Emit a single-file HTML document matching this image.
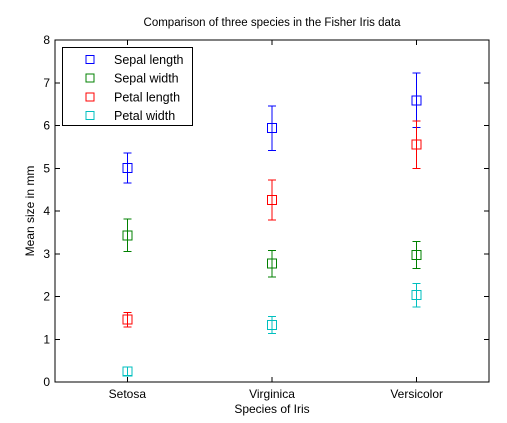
<!DOCTYPE html>
<html><head><meta charset="utf-8"><style>
body{margin:0;background:#fff;}
svg{display:block;font-family:"Liberation Sans",Arial,sans-serif;}
line,rect{shape-rendering:crispEdges;}
</style></head><body>
<svg id="chart" width="507" height="423">
<rect width="507" height="423" fill="#fff"/>
<g id="plot"></g>
</svg>
<script>
const categories = ["Setosa","Virginica","Versicolor"];
const seriesNames = ["Sepal length","Sepal width","Petal length","Petal width"];
const sepalLength = [5.01,5.94,6.59];
const sepalLengthErr = [0.35,0.52,0.64];
const sepalWidth = [3.43,2.77,2.97];
const sepalWidthErr = [0.38,0.31,0.32];
const petalLength = [1.46,4.26,5.55];
const petalLengthErr = [0.17,0.47,0.55];
const petalWidth = [0.25,1.33,2.03];
const petalWidthErr = [0.1,0.2,0.27];
const yTicks = [0,1,2,3,4,5,6,7,8];

const L=55,R=489,T=40,B=382;
const NS="http://www.w3.org/2000/svg";
const g=document.getElementById('plot');
function xs(i){return L+(i+0.5)*(R-L)/3;}
function ys(v){return B-(v/8)*(B-T);}
function mk(tag,attrs,parent){const e=document.createElementNS(NS,tag);for(const k in attrs)e.setAttribute(k,attrs[k]);(parent||g).appendChild(e);return e;}

const axes=mk('rect',{x:L,y:T,width:R-L,height:B-T,fill:'#fff',stroke:'#000','stroke-width':1});



yTicks.forEach(t=>{
  const y=ys(t);
  mk('line',{x1:L,x2:L+5,y1:y,y2:y,stroke:'#000'});
  mk('line',{x1:R,x2:R-5,y1:y,y2:y,stroke:'#000'});
  const tx=mk('text',{x:L-5,y:y+4,'text-anchor':'end','font-size':12});
  tx.textContent=t;
  
  
});
categories.forEach((c,i)=>{
  const x=xs(i);
  mk('line',{x1:x,x2:x,y1:B,y2:B-5,stroke:'#000'});
  mk('line',{x1:x,x2:x,y1:T,y2:T+5,stroke:'#000'});
  const tx=mk('text',{x:x,y:B+16,'text-anchor':'middle','font-size':12});
  tx.textContent=c;
  
  
});

const series=[[sepalLength,sepalLengthErr,'#0000ff'],[sepalWidth,sepalWidthErr,'#008000'],[petalLength,petalLengthErr,'#ff0000'],[petalWidth,petalWidthErr,'#00bfbf']];
series.forEach((s,si)=>{
  const grp=mk('g',{});
  
  
  s[0].forEach((v,i)=>{
    const x=xs(i),y=ys(v),y1=ys(v+s[1][i]),y2=ys(v-s[1][i]);
    mk('line',{x1:x,x2:x,y1:y1,y2:y2,stroke:s[2]},grp);
    mk('line',{x1:x-4,x2:x+4,y1:y1,y2:y1,stroke:s[2]},grp);
    mk('line',{x1:x-4,x2:x+4,y1:y2,y2:y2,stroke:s[2]},grp);
    const m=mk('rect',{x:x-4.5,y:y-4.5,width:9,height:9,fill:'none',stroke:s[2]},grp);
    
    
  });
});

const leg=mk('g',{});


mk('rect',{x:62.5,y:47.5,width:130,height:78,fill:'#fff',stroke:'#000'},leg);
seriesNames.forEach((n,i)=>{
  const y=59.5+i*18.7;
  mk('rect',{x:86,y:y-4,width:8,height:8,fill:'none',stroke:series[i][2]},leg);
  const tx=mk('text',{x:114,y:y+4.5,'font-size':12.5},leg);
  tx.textContent=n;
  
  
});

const title=mk('text',{x:(L+R)/2,y:26,'text-anchor':'middle','font-size':11.5});
title.textContent='Comparison of three species in the Fisher Iris data';


const xl=mk('text',{x:(L+R)/2,y:413,'text-anchor':'middle','font-size':12});
xl.textContent='Species of Iris';


const yl=mk('text',{x:0,y:0,'text-anchor':'middle','font-size':12,transform:'translate(34,'+((T+B)/2)+') rotate(-90)'});
yl.textContent='Mean size in mm';


</script>
</body></html>
